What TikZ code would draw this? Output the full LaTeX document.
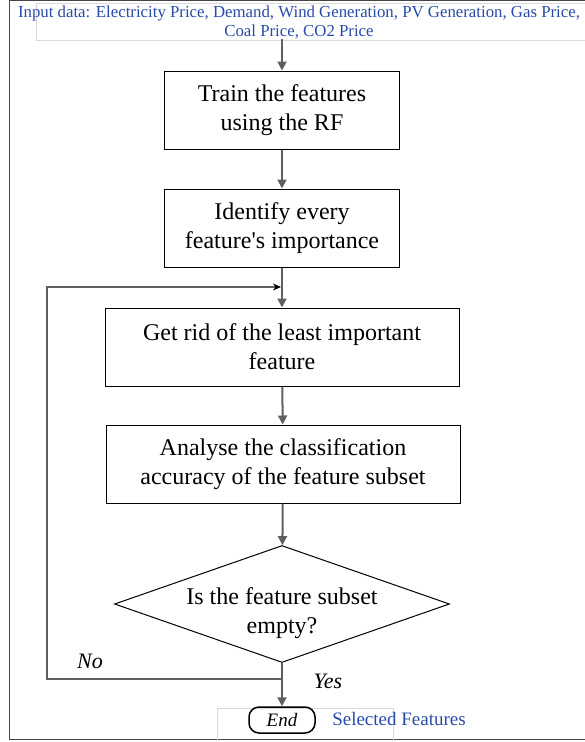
\documentclass[tikz,border=0pt]{standalone}
\usepackage{fontspec}
\setmainfont{Liberation Serif}
\usetikzlibrary{shapes.geometric, arrows.meta}
\definecolor{inputblue}{RGB}{40,75,170}
\definecolor{flowgray}{RGB}{95,95,95}
\definecolor{framegray}{RGB}{70,70,70}

\begin{document}
\begin{tikzpicture}[x=1pt, y=-1pt,
    box/.style={draw, line width=1pt, minimum width=235pt, minimum height=78pt, align=center, font=\fontsize{24}{29}\selectfont},
    widebox/.style={box, minimum width=354pt},
    decision/.style={draw, diamond, inner sep=0pt, line width=1pt, minimum width=335pt, minimum height=117pt},
    terminal/.style={draw, line width=1.5pt, rounded corners=10pt, minimum width=66pt, minimum height=26pt, inner sep=0pt, font=\fontsize{19}{22}\selectfont\itshape},
    flow/.style={flowgray, line width=2pt, -{Triangle[length=9pt, width=9pt]}},
    loopline/.style={flowgray, line width=2pt, -{Stealth[black, length=8pt, width=7pt]}},
    faint/.style={draw=gray!30, line width=0.8pt}]

    \useasboundingbox (0,0) rectangle (584,742);

    % outer frame and faint text boxes
    \draw[framegray, line width=1.5pt] (9.5,0.5) rectangle (640,739.5);
    \draw[faint] (36,3) rectangle (640,40);
    \draw[faint] (217,708) rectangle (393,760);

    % input and steps
    \node[align=center, text=inputblue, inner sep=0pt, font=\fontsize{16.8}{19}\selectfont] (input) at (299,22)
        {Input data: Electricity Price, Demand, Wind Generation, PV Generation, Gas Price,\\Coal Price, CO2 Price};
    \node[box] (train) at (282,110) {Train the features\\ using the RF};
    \node[box] (identify) at (282,228) {Identify every\\feature\textquotesingle s importance};
    \node[widebox] (remove) at (282,347) {Get rid of the least important\\feature};
    \node[widebox] (analyse) at (283,464) {Analyse the classification\\accuracy of the feature subset};
    \node[decision] (check) at (282,604) {};
    \node[align=center, font=\fontsize{24}{29}\selectfont] (checktext) at (282,613) {Is the feature subset\\empty?};
    \node[terminal] (finish) at (282,720) {End};
    \node[text=inputblue, inner sep=0pt, font=\fontsize{19}{22}\selectfont] (selected) at (399,719) {Selected Features};

    \coordinate (loopin) at (281,287);
    \coordinate (split) at (282,679);

    % arrows
    \draw[flow] (input.south -| train.north) -- (train);
    \draw[flow] (train) -- (identify);
    \draw[flow] (identify) -- (remove);
    \draw[flow] (remove) -- (analyse);
    \draw[flow] (analyse) -- (check);
    \draw[flow] (check.south) -- (finish.north);
    \draw[loopline] (split) -- ++(-235,0) |- (loopin);

    % labels
    \node[font=\fontsize{22}{26}\selectfont\itshape] (no) at (90,661) {No};
    \node[font=\fontsize{22}{26}\selectfont\itshape] (yes) at (328,681) {Yes};

\end{tikzpicture}
\end{document}
